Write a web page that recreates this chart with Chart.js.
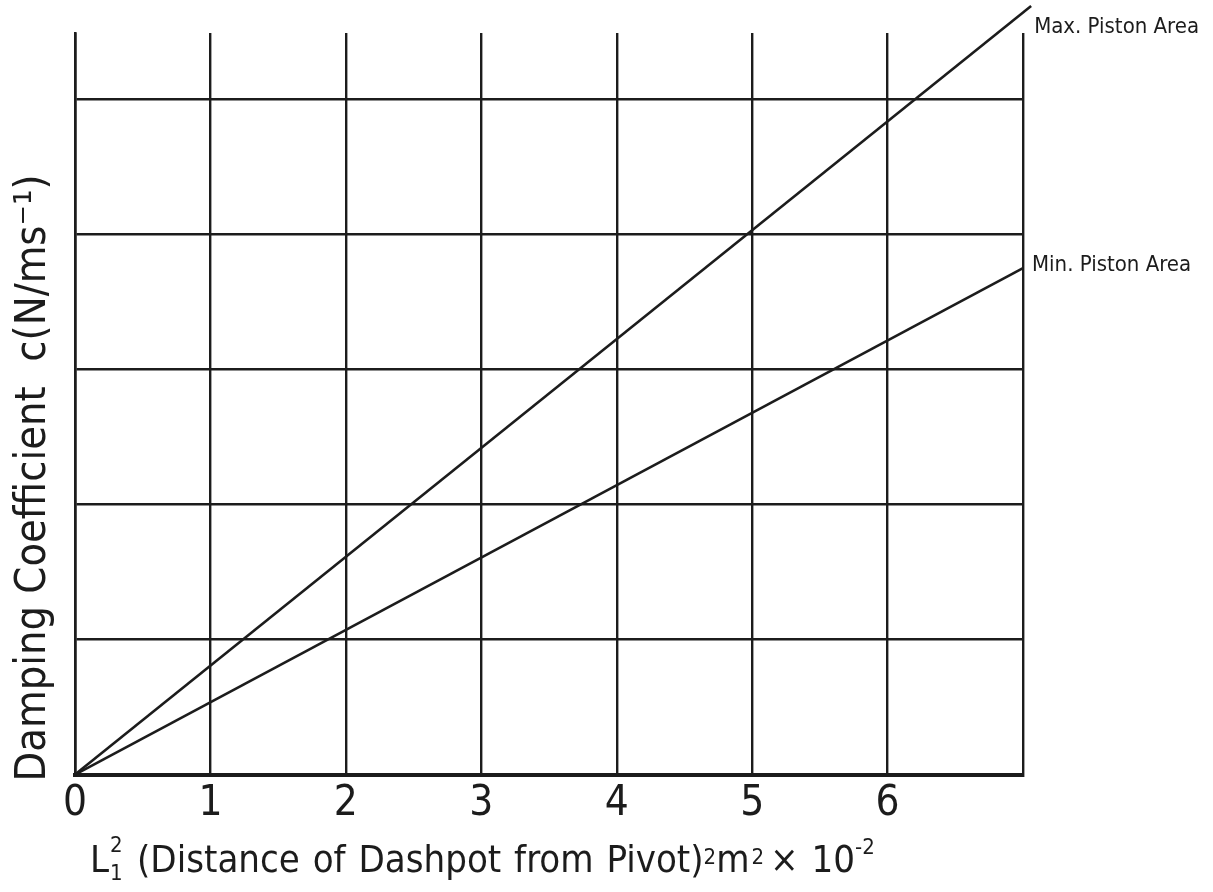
<!DOCTYPE html>
<html>
<head>
<meta charset="utf-8">
<script src="https://cdn.jsdelivr.net/npm/chart.js@4.4.1/dist/chart.umd.min.js"></script>
<style>
    html, body { margin: 0; padding: 0; background: #fff; }
    #wrap { width: 1213px; height: 892px; }
</style>
</head>
<body>
<div id="wrap"><canvas id="dampingChart" width="1213" height="892"></canvas></div>
<script>
// Data
const xTickValues = [0, 1, 2, 3, 4, 5, 6, 7];
const xTickLabels = ['0', '1', '2', '3', '4', '5', '6', ''];
const yGridValues = [0, 1, 2, 3, 4, 5];

const seriesNames = ['Max. Piston Area', 'Min. Piston Area'];
const maxAreaX = [0, 7.06];
const maxAreaY = [0, 5.69];
const minAreaX = [0, 7];
const minAreaY = [0, 3.75];

const INK = '#1c1c1c';
const FONT = '"Liberation Sans Narrow", "DejaVu Sans Condensed", sans-serif';

function toPoints(xs, ys) {
    return xs.map((x, i) => ({ x: x, y: ys[i] }));
}

// Draw a run of text pieces; each piece may be shifted up/down and scaled
function drawRuns(ctx, x, y, runs) {
    let cx = x;
    runs.forEach(r => {
        ctx.font = `${r.size}px ${FONT}`;
        ctx.fillText(r.text, cx, y + (r.dy || 0));
        cx += ctx.measureText(r.text).width + (r.gap || 0);
    });
}

// Axis titles and line labels
const annotations = {
    id: 'annotations',
    afterDraw(chart) {
        const { ctx, chartArea } = chart;
        ctx.save();
        ctx.fillStyle = INK;
        ctx.textBaseline = 'alphabetic';
        ctx.textAlign = 'left';

        // y axis title
        ctx.save();
        ctx.translate(45, 478);
        ctx.rotate(-Math.PI / 2);
        ctx.textAlign = 'center';
        ctx.font = `43px ${FONT}`;
        ctx.fillText('Damping Coefficient  c(N/ms\u207B\u00B9)', 0, 0);
        ctx.restore();

        // x axis title with stacked super/subscript on L
        const by = 872;
        ctx.font = `38px ${FONT}`;
        ctx.fillText('L', 90, by);
        const lw = ctx.measureText('L').width;
        ctx.font = `22px ${FONT}`;
        ctx.fillText('2', 90 + lw + 1, by - 20);
        ctx.fillText('1', 90 + lw + 1, by + 8);
        ctx.wordSpacing = '2px';
        drawRuns(ctx, 137, by, [
            { text: '(Distance of Dashpot from Pivot)', size: 38 },
            { text: '2', size: 22, dy: -8 },
            { text: 'm', size: 38, gap: 2 },
            { text: '2', size: 22, dy: -8, gap: 6 },
            { text: '\u00D7 10', size: 38 },
            { text: '-2', size: 22, dy: -18 }
        ]);
        ctx.wordSpacing = '0px';

        // labels at the right-hand end of each line
        ctx.font = `22px ${FONT}`;
        const maxEnd = chart.getDatasetMeta(0).data[1];
        const minEnd = chart.getDatasetMeta(1).data[1];
        ctx.textBaseline = 'middle';
        ctx.fillText(seriesNames[0], maxEnd.x + 3, maxEnd.y + 21);
        ctx.fillText(seriesNames[1], chartArea.right + 9, minEnd.y - 3);
        ctx.restore();
    }
};

const ctx = document.getElementById('dampingChart').getContext('2d');
new Chart(ctx, {
    type: 'line',
    data: {
        datasets: [
            {
                label: seriesNames[0],
                data: toPoints(maxAreaX, maxAreaY),
                borderColor: INK,
                borderWidth: 2.6,
                pointRadius: 0,
                clip: false
            },
            {
                label: seriesNames[1],
                data: toPoints(minAreaX, minAreaY),
                borderColor: INK,
                borderWidth: 2.6,
                pointRadius: 0,
                clip: false
            }
        ]
    },
    options: {
        responsive: false,
        animation: false,
        layout: { padding: { left: 75, top: 33, right: 190, bottom: 59 } },
        plugins: {
            legend: { display: false },
            tooltip: { enabled: false }
        },
        scales: {
            x: {
                type: 'linear',
                min: 0,
                max: 7,
                afterBuildTicks: (scale) => {
                    scale.ticks = xTickValues.map(v => ({ value: v }));
                },
                ticks: {
                    color: INK,
                    padding: 4,
                    maxRotation: 0,
                    autoSkip: false,
                    font: { family: FONT, size: 42 },
                    callback: (v) => xTickLabels[xTickValues.indexOf(v)]
                },
                grid: { color: INK, lineWidth: 2.4, drawTicks: false },
                border: { color: INK, width: 4 }
            },
            y: {
                min: 0,
                max: 5.49,
                afterBuildTicks: (scale) => {
                    scale.ticks = yGridValues.map(v => ({ value: v }));
                },
                ticks: { display: false },
                grid: { color: INK, lineWidth: 2.4, drawTicks: false },
                border: { color: INK, width: 2.6 }
            }
        }
    },
    plugins: [annotations]
});
</script>
</body>
</html>
